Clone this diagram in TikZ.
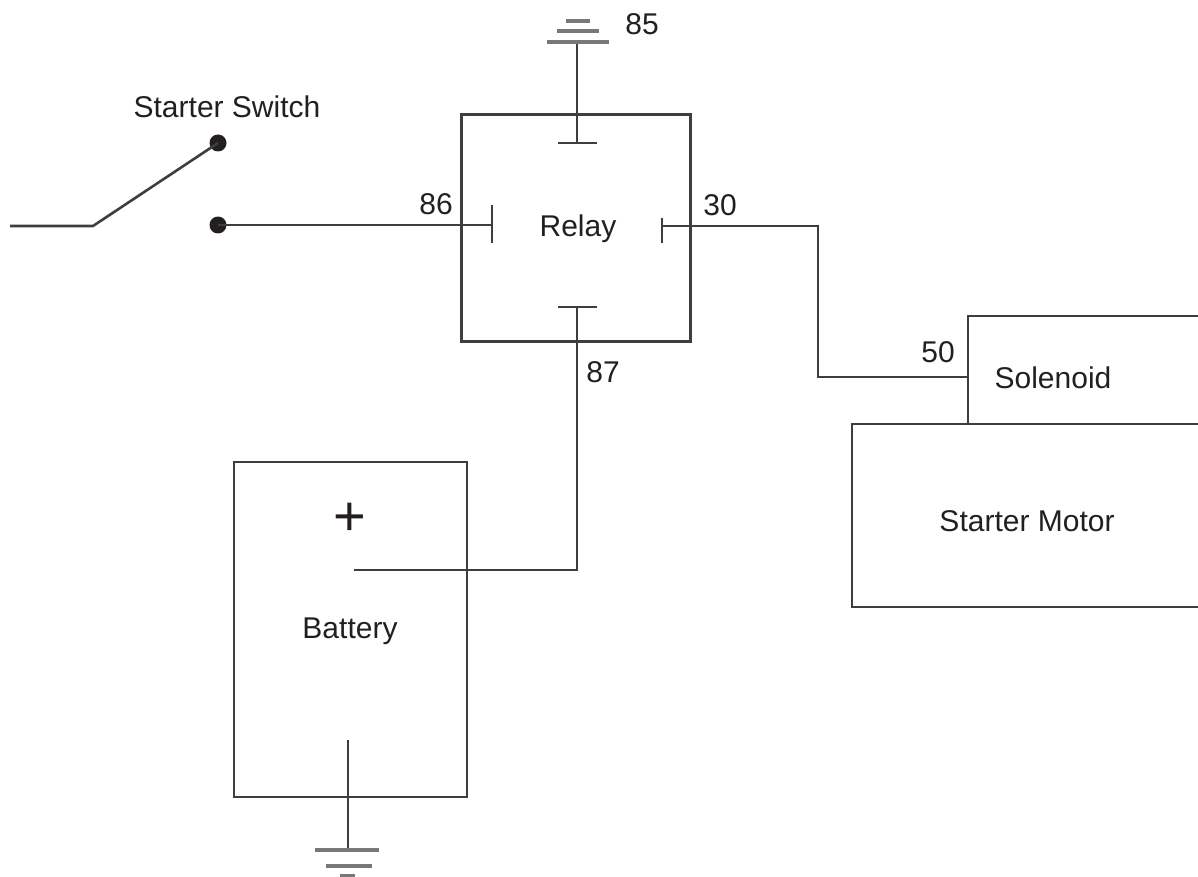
\documentclass[tikz,border=0pt]{standalone}
\usepackage{fontspec}
\setmainfont{Liberation Sans}
\definecolor{wirec}{RGB}{62,62,62}
\definecolor{gndc}{RGB}{120,120,120}
\definecolor{txtc}{RGB}{35,31,32}
\begin{document}
\begin{tikzpicture}[x=1pt,y=-1pt,
  wire/.style={line width=2.6pt, draw=wirec},
  box/.style={draw=wirec, line width=2.8pt, rectangle, inner sep=0pt},
  gbar/.style={line width=3.6pt, draw=gndc},
  lbl/.style={text=txtc, font=\fontsize{30}{36}\selectfont, inner sep=0pt},
  dotn/.style={circle, fill=txtc, minimum size=17pt, inner sep=0pt}]
\useasboundingbox (0,0) rectangle (1198,877);
\clip (0,0) rectangle (1198,877);

% boxes
\node[box, minimum width=229pt, minimum height=227pt] (relay) at (576,228) {};
\node[box, minimum width=233pt, minimum height=335pt] (batt) at (350.5,629.5) {};
\node[box, minimum width=332pt, minimum height=108pt] (sol) at (1134,370) {};
\node[box, minimum width=448pt, minimum height=183pt] (motor) at (1076,515.5) {};

% labels
\node[lbl] (l85) at (642,24) {85};
\node[lbl] (lsw) at (227,107) {Starter Switch};
\node[lbl] (l86) at (436,204) {86};
\node[lbl] (lrelay) at (578,229) {Relay};
\node[lbl] (l30) at (720,205) {30};
\node[lbl] (l87) at (603,372) {87};
\node[lbl] (l50) at (938,352) {50};
\node[lbl] (lsol) at (1053,378) {Solenoid};
\node[lbl] (lmot) at (1027,521) {Starter Motor};
\node[lbl] (lbat) at (350,631) {Battery};
\node[lbl, font=\fontsize{56}{60}\selectfont] (plus) at (350,519) {+};

% switch
\coordinate (swL) at (10,226);
\coordinate (swP) at (93,226);
\node[dotn] (swT) at (218,143) {};
\node[dotn] (sw86) at (218,225) {};
\draw[wire] (swL) -- (swP) -- (swT.center);

% terminal 86
\coordinate (t86) at (492,225);
\draw[wire] (sw86.center) -- (t86);
\draw[wire] (492,205) -- (492,243);

% terminal 85 and top ground
\coordinate (g85) at (577,42);
\coordinate (t85) at (577,143);
\draw[wire] (g85) -- (t85);
\draw[wire] (558,143) -- (597,143);
\draw[gbar] (547,42) -- (609,42);
\draw[gbar] (557,31) -- (599,31);
\draw[gbar] (566,21) -- (590,21);

% terminal 30 to solenoid 50
\coordinate (t30) at (662,226);
\coordinate (c50) at (968,377);
\draw[wire] (662,218) -- (662,243);
\draw[wire] (t30) -- (818,226) -- (818,377) -- (c50);

% terminal 87 to battery +
\coordinate (t87) at (577,307);
\coordinate (bplus) at (354,570);
\draw[wire] (558,307) -- (597,307);
\draw[wire] (t87) -- (577,570) -- (bplus);

% battery ground
\coordinate (bneg) at (348,740);
\coordinate (gb) at (348,850);
\draw[wire] (bneg) -- (gb);
\draw[gbar] (315,850) -- (379,850);
\draw[gbar] (326,866) -- (372,866);
\draw[gbar] (340,876) -- (355,876);
\end{tikzpicture}
\end{document}
